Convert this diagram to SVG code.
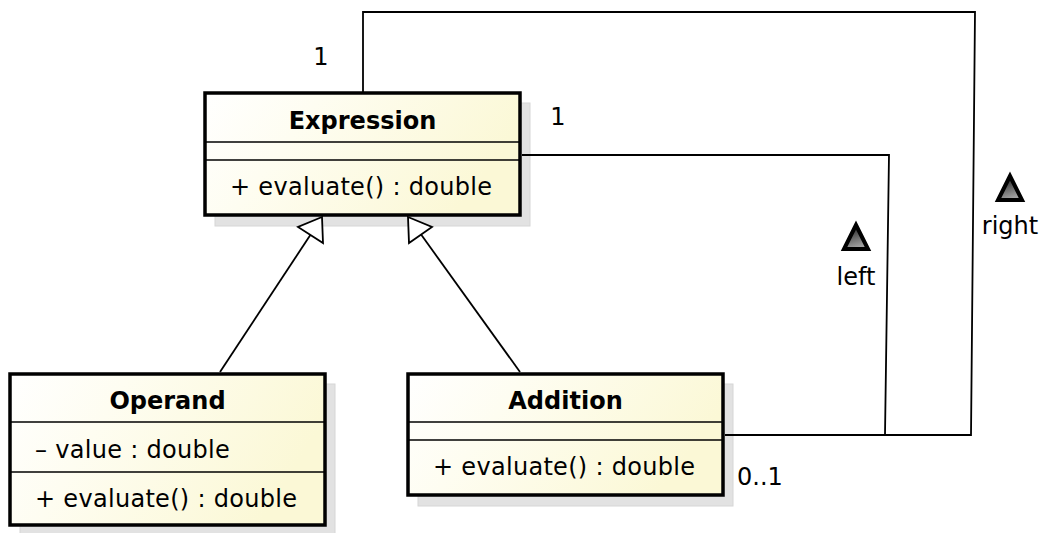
<svg xmlns="http://www.w3.org/2000/svg" width="1043" height="533" viewBox="0 0 1043 533">
<defs>
<linearGradient id="fill" x1="0" y1="0" x2="1" y2="0.3">
<stop offset="0" stop-color="#ffffff"/>
<stop offset="0.35" stop-color="#fefdf1"/>
<stop offset="1" stop-color="#fbf8d6"/>
</linearGradient>
<linearGradient id="tri" x1="0" y1="0" x2="0.3" y2="1">
<stop offset="0" stop-color="#111111"/>
<stop offset="1" stop-color="#a0a0a0"/>
</linearGradient>
</defs>
<style>
.shadow{fill:#e2e2e2;stroke:#d6d6d6;stroke-width:1}
.box{fill:url(#fill);stroke:#000;stroke-width:3.5}
.div{stroke:#000;stroke-width:1.6}
.name{font-family:"DejaVu Sans",sans-serif;font-weight:bold;font-size:24px;text-anchor:middle;fill:#000}
.mem{font-family:"DejaVu Sans",sans-serif;font-size:24px;fill:#000;letter-spacing:0.3px}
.lbl{font-family:"DejaVu Sans",sans-serif;font-size:24px;fill:#000}
.line{fill:none;stroke:#000;stroke-width:1.8}
.gen{fill:#fff;stroke:#000;stroke-width:1.8;stroke-linejoin:miter}
.dir{fill:url(#tri);stroke:#000;stroke-width:4;stroke-linejoin:miter}
</style>
<g id="Expression">
<rect class="shadow" x="215" y="103" width="315" height="123"/>
<rect class="box" x="205" y="93" width="315" height="122"/>
<line class="div" x1="205" y1="142" x2="520" y2="142"/>
<line class="div" x1="205" y1="160" x2="520" y2="160"/>
<text class="name" x="362.5" y="129">Expression</text>
<text class="mem" x="230" y="195">+ evaluate() : double</text>
</g>
<g id="Operand">
<rect class="shadow" x="20" y="384" width="315" height="152"/>
<rect class="box" x="10" y="374" width="315" height="151"/>
<line class="div" x1="10" y1="422" x2="325" y2="422"/>
<line class="div" x1="10" y1="472" x2="325" y2="472"/>
<text class="name" x="167.5" y="409">Operand</text>
<text class="mem" x="35" y="458">– value : double</text>
<text class="mem" x="35" y="507">+ evaluate() : double</text>
</g>
<g id="Addition">
<rect class="shadow" x="418" y="384" width="315" height="122"/>
<rect class="box" x="408" y="374" width="315" height="121"/>
<line class="div" x1="408" y1="422" x2="723" y2="422"/>
<line class="div" x1="408" y1="440" x2="723" y2="440"/>
<text class="name" x="565.5" y="409">Addition</text>
<text class="mem" x="433" y="475">+ evaluate() : double</text>
</g>
<g id="connectors">
<path class="line" d="M363,92 V12 H975 L971,435 H725"/>
<path class="line" d="M522,155 H889 L885,435"/>
<line class="line" x1="220" y1="372" x2="311" y2="234"/>
<polygon class="gen" points="322,217 298,227 323,243"/>
<line class="line" x1="520" y1="372" x2="420" y2="233"/>
<polygon class="gen" points="408,217 432,227 409,243"/>
<text class="lbl" x="321" y="65" text-anchor="middle">1</text>
<text class="lbl" x="558" y="125" text-anchor="middle">1</text>
<text class="lbl" x="737" y="485">0..1</text>
<polygon class="dir" points="856,225 844,249 868,249"/>
<text class="lbl" x="856" y="285" text-anchor="middle">left</text>
<polygon class="dir" points="1010,176 998,200 1022,200"/>
<text class="lbl" x="1010" y="234" text-anchor="middle">right</text>
</g>
</svg>
